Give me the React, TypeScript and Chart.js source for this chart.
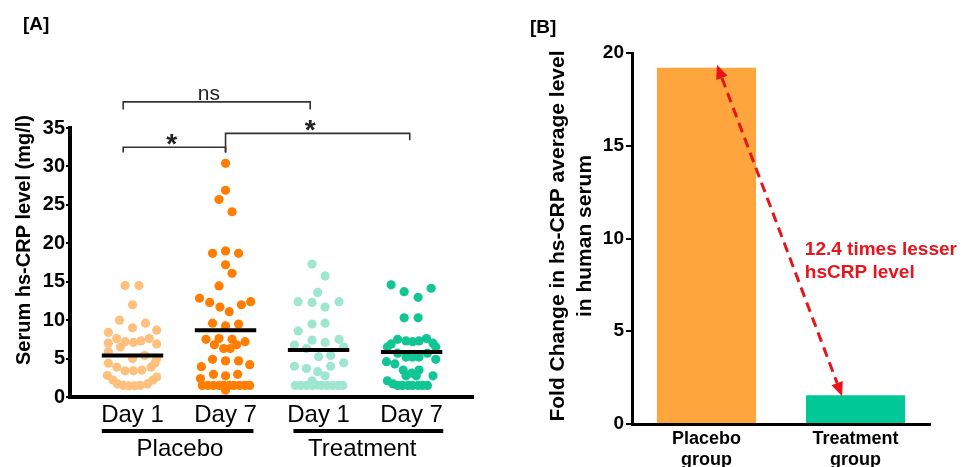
import React, { useEffect, useRef } from "react";
import { Chart, registerables } from "chart.js";

Chart.register(...registerables);
Chart.defaults.font.family = '"Liberation Sans", Arial, sans-serif';

// ---------- Panel A data ----------
const groupLabels = ["Day 1", "Day 7", "Day 1", "Day 7"];
const armLabels = ["Placebo", "Treatment"];
const yTitleA = "Serum hs-CRP level (mg/l)";

// each point: [horizontal jitter within the group (group widths), hs-CRP (mg/l)]
const placeboDay1: [number, number][] = [
  [-0.08, 14.5], [0.07, 14.5], [0, 12.0], [-0.14, 10.0], [0.14, 9.6], [0, 9.0],
  [-0.26, 8.4], [0.26, 8.7], [-0.17, 7.6], [0.18, 7.6], [-0.26, 7.0], [-0.08, 7.2],
  [0.01, 7.1], [0.09, 7.3], [0.26, 6.9], [-0.13, 6.5], [-0.26, 5.9], [0.13, 5.4],
  [0, 5.0], [0.26, 5.0], [-0.26, 4.4], [0.24, 4.4], [-0.17, 3.9], [0.2, 3.9],
  [-0.08, 3.4], [0.01, 3.4], [0.1, 3.5], [-0.27, 2.8], [0.26, 2.6], [-0.21, 2.2],
  [0.22, 2.2], [-0.16, 1.7], [0.16, 1.7], [-0.1, 1.5], [-0.04, 1.45], [0.02, 1.45],
  [0.08, 1.5],
];
const placeboDay7: [number, number][] = [
  [0, 30.4], [0, 26.9], [-0.07, 25.7], [0.07, 24.1], [-0.14, 18.7], [0, 19.0],
  [0.14, 18.7], [0, 17.2], [0.07, 16.1], [-0.07, 14.45], [-0.28, 12.85], [-0.17, 12.3],
  [-0.06, 11.7], [0.04, 11.1], [0.17, 12.0], [0.27, 12.4], [-0.14, 9.6], [0, 9.25],
  [0.14, 9.5], [-0.21, 7.5], [-0.07, 7.6], [0.07, 7.5], [0.21, 7.2], [-0.12, 6.8],
  [-0.02, 6.3], [0.05, 6.3], [0.12, 6.8], [-0.14, 4.9], [0, 4.7], [0.14, 4.7],
  [-0.26, 3.95], [0.26, 4.2], [-0.13, 2.95], [0, 2.75], [0.13, 2.95], [-0.27, 2.4],
  [-0.25, 1.5], [-0.19, 1.5], [-0.13, 1.5], [-0.07, 1.5], [-0.02, 1.5], [0.04, 1.5],
  [0.09, 1.5], [0.15, 1.5], [0.21, 1.5], [0.26, 1.5], [0, 0.9],
];
const treatmentDay1: [number, number][] = [
  [-0.07, 17.3], [0.07, 15.75], [-0.01, 13.6], [-0.22, 12.4], [-0.07, 12.3], [0.07, 11.7],
  [0.22, 12.4], [-0.07, 9.5], [0.07, 9.6], [-0.22, 8.6], [-0.07, 7.4], [0.07, 7.1],
  [0.22, 7.5], [-0.26, 6.75], [-0.13, 6.3], [0.27, 6.5], [0, 5.25], [0.13, 5.4],
  [0.27, 4.45], [-0.26, 4.0], [0.13, 4.0], [-0.13, 3.7], [-0.01, 3.3], [0.07, 2.75],
  [-0.07, 2.1], [-0.25, 1.5], [-0.19, 1.5], [-0.13, 1.5], [-0.07, 1.5], [-0.02, 1.55],
  [0.03, 1.5], [0.09, 1.5], [0.15, 1.5], [0.21, 1.5], [0.26, 1.5],
];
const treatmentDay7: [number, number][] = [
  [-0.22, 14.6], [-0.08, 13.7], [0.07, 12.97], [0.21, 14.15], [-0.08, 10.3], [0.07, 10.3],
  [-0.22, 6.9], [-0.15, 7.5], [-0.06, 7.3], [0.01, 7.2], [0.08, 7.3], [0.16, 7.6],
  [0.23, 7.0], [-0.26, 6.5], [0.26, 6.5], [-0.15, 5.7], [-0.06, 5.2], [0.01, 5.2],
  [0.08, 5.2], [0.17, 5.7], [-0.27, 4.6], [0.26, 4.9], [-0.18, 4.3], [-0.09, 3.5],
  [0, 3.1], [0.08, 3.5], [-0.06, 2.75], [0.05, 2.75], [0.23, 2.75], [-0.26, 2.1],
  [-0.2, 1.7], [-0.15, 1.5], [-0.1, 1.5], [-0.04, 1.5], [0.01, 1.5], [0.07, 1.5],
  [0.12, 1.5], [0.17, 1.5],
];
const groupPoints = [placeboDay1, placeboDay7, treatmentDay1, treatmentDay7];
const groupMeans = [5.4, 8.7, 6.1, 5.85];
const groupColors = ["#FFC07E", "#FF7D00", "#9FE6D1", "#12C594"];

// ---------- Panel B data ----------
const barCategories = [["Placebo", "group"], ["Treatment", "group"]];
const foldChange = [19.2, 1.55];
const barColors = ["#FFA53E", "#00C897"];
const yTitleB = ["Fold Change in hs-CRP average level", "in human serum"];
const annotationLines = ["12.4 times lesser", "hsCRP level"];

const FONT = '"Liberation Sans", Arial, sans-serif';

const panelAPlugin = {
  id: "panelA",
  afterDraw(chart: any) {
    const { ctx, scales } = chart;
    const x = scales.x, y = scales.y;
    ctx.save();
    ctx.fillStyle = "#000";
    ctx.font = `bold 19px ${FONT}`;
    ctx.textAlign = "left";
    ctx.textBaseline = "alphabetic";
    ctx.fillText("[A]", 23, 30);

    ctx.save();
    ctx.translate(24, 240);
    ctx.rotate(-Math.PI / 2);
    ctx.font = `bold 20px ${FONT}`;
    ctx.textAlign = "center";
    ctx.textBaseline = "middle";
    ctx.fillText(yTitleA, 0, 0);
    ctx.restore();

    // significance brackets
    const brackets = [
      { a: -0.1, b: 1.91, top: 38.4, legA: 37.4, legB: 37.4, label: "ns", lx: 0.82 },
      { a: -0.1, b: 1.0, top: 32.5, legA: 31.8, legB: 31.8, label: "*", lx: 0.42 },
      { a: 1.0, b: 2.98, top: 34.3, legA: 31.8, legB: 33.4, label: "*", lx: 1.91 },
    ];
    ctx.strokeStyle = "#333";
    ctx.lineWidth = 1.6;
    for (const br of brackets) {
      const xa = x.getPixelForValue(br.a), xb = x.getPixelForValue(br.b);
      const yt = y.getPixelForValue(br.top);
      ctx.beginPath();
      ctx.moveTo(xa, y.getPixelForValue(br.legA));
      ctx.lineTo(xa, yt);
      ctx.lineTo(xb, yt);
      ctx.lineTo(xb, y.getPixelForValue(br.legB));
      ctx.stroke();
      ctx.fillStyle = "#222";
      ctx.textAlign = "center";
      ctx.textBaseline = "alphabetic";
      if (br.label === "ns") {
        ctx.font = `21px ${FONT}`;
        ctx.fillText(br.label, x.getPixelForValue(br.lx), yt - 2);
      } else {
        ctx.font = `bold 28px ${FONT}`;
        ctx.fillText(br.label, x.getPixelForValue(br.lx), yt + 6);
      }
    }

    // arm underlines and labels
    const arms = [
      { a: -0.33, b: 1.3, c: 0.51 },
      { a: 1.73, b: 3.34, c: 2.47 },
    ];
    const ly = x.top + 34;
    ctx.strokeStyle = "#000";
    ctx.lineWidth = 4;
    ctx.fillStyle = "#000";
    ctx.font = `24px ${FONT}`;
    ctx.textAlign = "center";
    arms.forEach((arm, i) => {
      ctx.beginPath();
      ctx.moveTo(x.getPixelForValue(arm.a), ly);
      ctx.lineTo(x.getPixelForValue(arm.b), ly);
      ctx.stroke();
      ctx.fillText(armLabels[i], x.getPixelForValue(arm.c), ly + 25);
    });
    ctx.restore();
  },
};

const panelBPlugin = {
  id: "panelB",
  afterDraw(chart: any) {
    const { ctx, scales } = chart;
    const x = scales.x, y = scales.y;
    ctx.save();
    ctx.fillStyle = "#000";
    ctx.font = `bold 19px ${FONT}`;
    ctx.textAlign = "left";
    ctx.textBaseline = "alphabetic";
    ctx.fillText("[B]", 40, 33);

    ctx.save();
    ctx.translate(68, 236);
    ctx.rotate(-Math.PI / 2);
    ctx.font = `bold 21px ${FONT}`;
    ctx.textAlign = "center";
    ctx.textBaseline = "middle";
    yTitleB.forEach((line, i) => ctx.fillText(line, 0, i * 27));
    ctx.restore();

    // dashed double-headed arrow between bar tops
    const cat = x.getPixelForValue(1) - x.getPixelForValue(0);
    const t1x = x.getPixelForValue(0) + 0.07 * cat, t1y = y.getPixelForValue(foldChange[0]) - 3;
    const t2x = x.getPixelForValue(1) - 0.09 * cat, t2y = y.getPixelForValue(foldChange[1]) + 1;
    const ang = Math.atan2(t2y - t1y, t2x - t1x);
    const ux = Math.cos(ang), uy = Math.sin(ang);
    const hl = 14, hw = 6;
    const red = "#E8141B";
    ctx.strokeStyle = red;
    ctx.fillStyle = red;
    ctx.lineWidth = 3;
    ctx.setLineDash([10, 6]);
    ctx.beginPath();
    ctx.moveTo(t1x + ux * hl, t1y + uy * hl);
    ctx.lineTo(t2x - ux * hl, t2y - uy * hl);
    ctx.stroke();
    ctx.setLineDash([]);
    const head = (tx: number, ty: number, dx: number, dy: number) => {
      ctx.beginPath();
      ctx.moveTo(tx, ty);
      ctx.lineTo(tx - dx * hl - dy * hw, ty - dy * hl + dx * hw);
      ctx.lineTo(tx - dx * hl + dy * hw, ty - dy * hl - dx * hw);
      ctx.closePath();
      ctx.fill();
    };
    head(t2x, t2y, ux, uy);
    head(t1x, t1y, -ux, -uy);

    ctx.font = `bold 19px ${FONT}`;
    ctx.textAlign = "left";
    ctx.textBaseline = "alphabetic";
    const tx = x.getPixelForValue(0.66);
    annotationLines.forEach((line, i) => ctx.fillText(line, tx, y.getPixelForValue(9.55) + 8 + i * 23));
    ctx.restore();
  },
};

export default function App() {
  const refA = useRef<HTMLCanvasElement | null>(null);
  const refB = useRef<HTMLCanvasElement | null>(null);

  useEffect(() => {
    document.body.style.margin = "0";
    document.body.style.overflow = "hidden";

    const meanSets = groupMeans.map((m, i) => ({
      type: "line" as const,
      data: [{ x: i - 0.33, y: m }, { x: i + 0.33, y: m }],
      borderColor: "#000",
      borderWidth: 4,
      pointRadius: 0,
      fill: false,
      order: 0,
    }));
    const dotSets = groupPoints.map((pts, i) => ({
      type: "scatter" as const,
      data: pts.map(([dx, v]) => ({ x: i + dx, y: v })),
      backgroundColor: groupColors[i],
      borderWidth: 0,
      pointRadius: 4.6,
      pointHoverRadius: 4.6,
      order: 1,
    }));

    const chartA = new Chart(refA.current!, {
      type: "scatter",
      data: { datasets: [...meanSets, ...dotSets] as any },
      options: {
        animation: false,
        responsive: false,
        events: [],
        layout: { padding: { left: 0, right: 17, top: 128, bottom: 0 } },
        plugins: { legend: { display: false }, tooltip: { enabled: false } },
        scales: {
          x: {
            type: "linear",
            min: -0.672,
            max: 3.66,
            bounds: "data",
            afterBuildTicks: (s: any) => {
              s.ticks = groupLabels.map((_, i) => ({ value: i }));
            },
            afterFit: (s: any) => {
              s.height = 70;
            },
            ticks: {
              callback: (_v: any, i: number) => groupLabels[i] ?? "",
              font: { size: 24 },
              color: "#000",
              padding: 4,
              autoSkip: false,
              maxRotation: 0,
            },
            grid: { display: false, drawTicks: false },
            border: { display: true, color: "#000", width: 4 },
          },
          y: {
            min: 0,
            max: 35,
            afterFit: (s: any) => {
              s.width = 70;
            },
            ticks: { stepSize: 5, font: { size: 20, weight: "bold" }, color: "#000", padding: 1 },
            grid: { drawOnChartArea: false, tickLength: 4, color: "#000", lineWidth: 2 },
            border: { color: "#000", width: 4 },
          },
        },
      } as any,
      plugins: [panelAPlugin],
    });

    const chartB = new Chart(refB.current!, {
      type: "bar",
      data: {
        labels: barCategories,
        datasets: [
          {
            data: foldChange,
            backgroundColor: barColors,
            borderWidth: 0,
            categoryPercentage: 1,
            barPercentage: 0.665,
          },
        ],
      },
      options: {
        animation: false,
        responsive: false,
        events: [],
        layout: { padding: { left: 0, right: 35, top: 53, bottom: 0 } },
        plugins: { legend: { display: false }, tooltip: { enabled: false } },
        scales: {
          x: {
            afterFit: (s: any) => {
              s.height = 43;
            },
            ticks: { font: { size: 18, weight: "bold", lineHeight: 1.15 }, color: "#000", padding: 5 },
            grid: { display: false, drawTicks: false },
            border: { display: true, color: "#000", width: 3 },
          },
          y: {
            min: 0,
            max: 20,
            afterFit: (s: any) => {
              s.width = 142;
            },
            ticks: { stepSize: 5, font: { size: 19, weight: "bold" }, color: "#000", padding: 2 },
            grid: { drawOnChartArea: false, tickLength: 6, color: "#000", lineWidth: 2 },
            border: { color: "#000", width: 3 },
          },
        },
      } as any,
      plugins: [panelBPlugin],
    });

    return () => {
      chartA.destroy();
      chartB.destroy();
    };
  }, []);

  return (
    <div style={{ position: "absolute", left: 0, top: 0, width: 965, height: 467, background: "#fff" }}>
      <canvas ref={refA} width={490} height={467} style={{ position: "absolute", left: 0, top: 0 }} />
      <canvas ref={refB} width={475} height={467} style={{ position: "absolute", left: 490, top: 0 }} />
    </div>
  );
}
